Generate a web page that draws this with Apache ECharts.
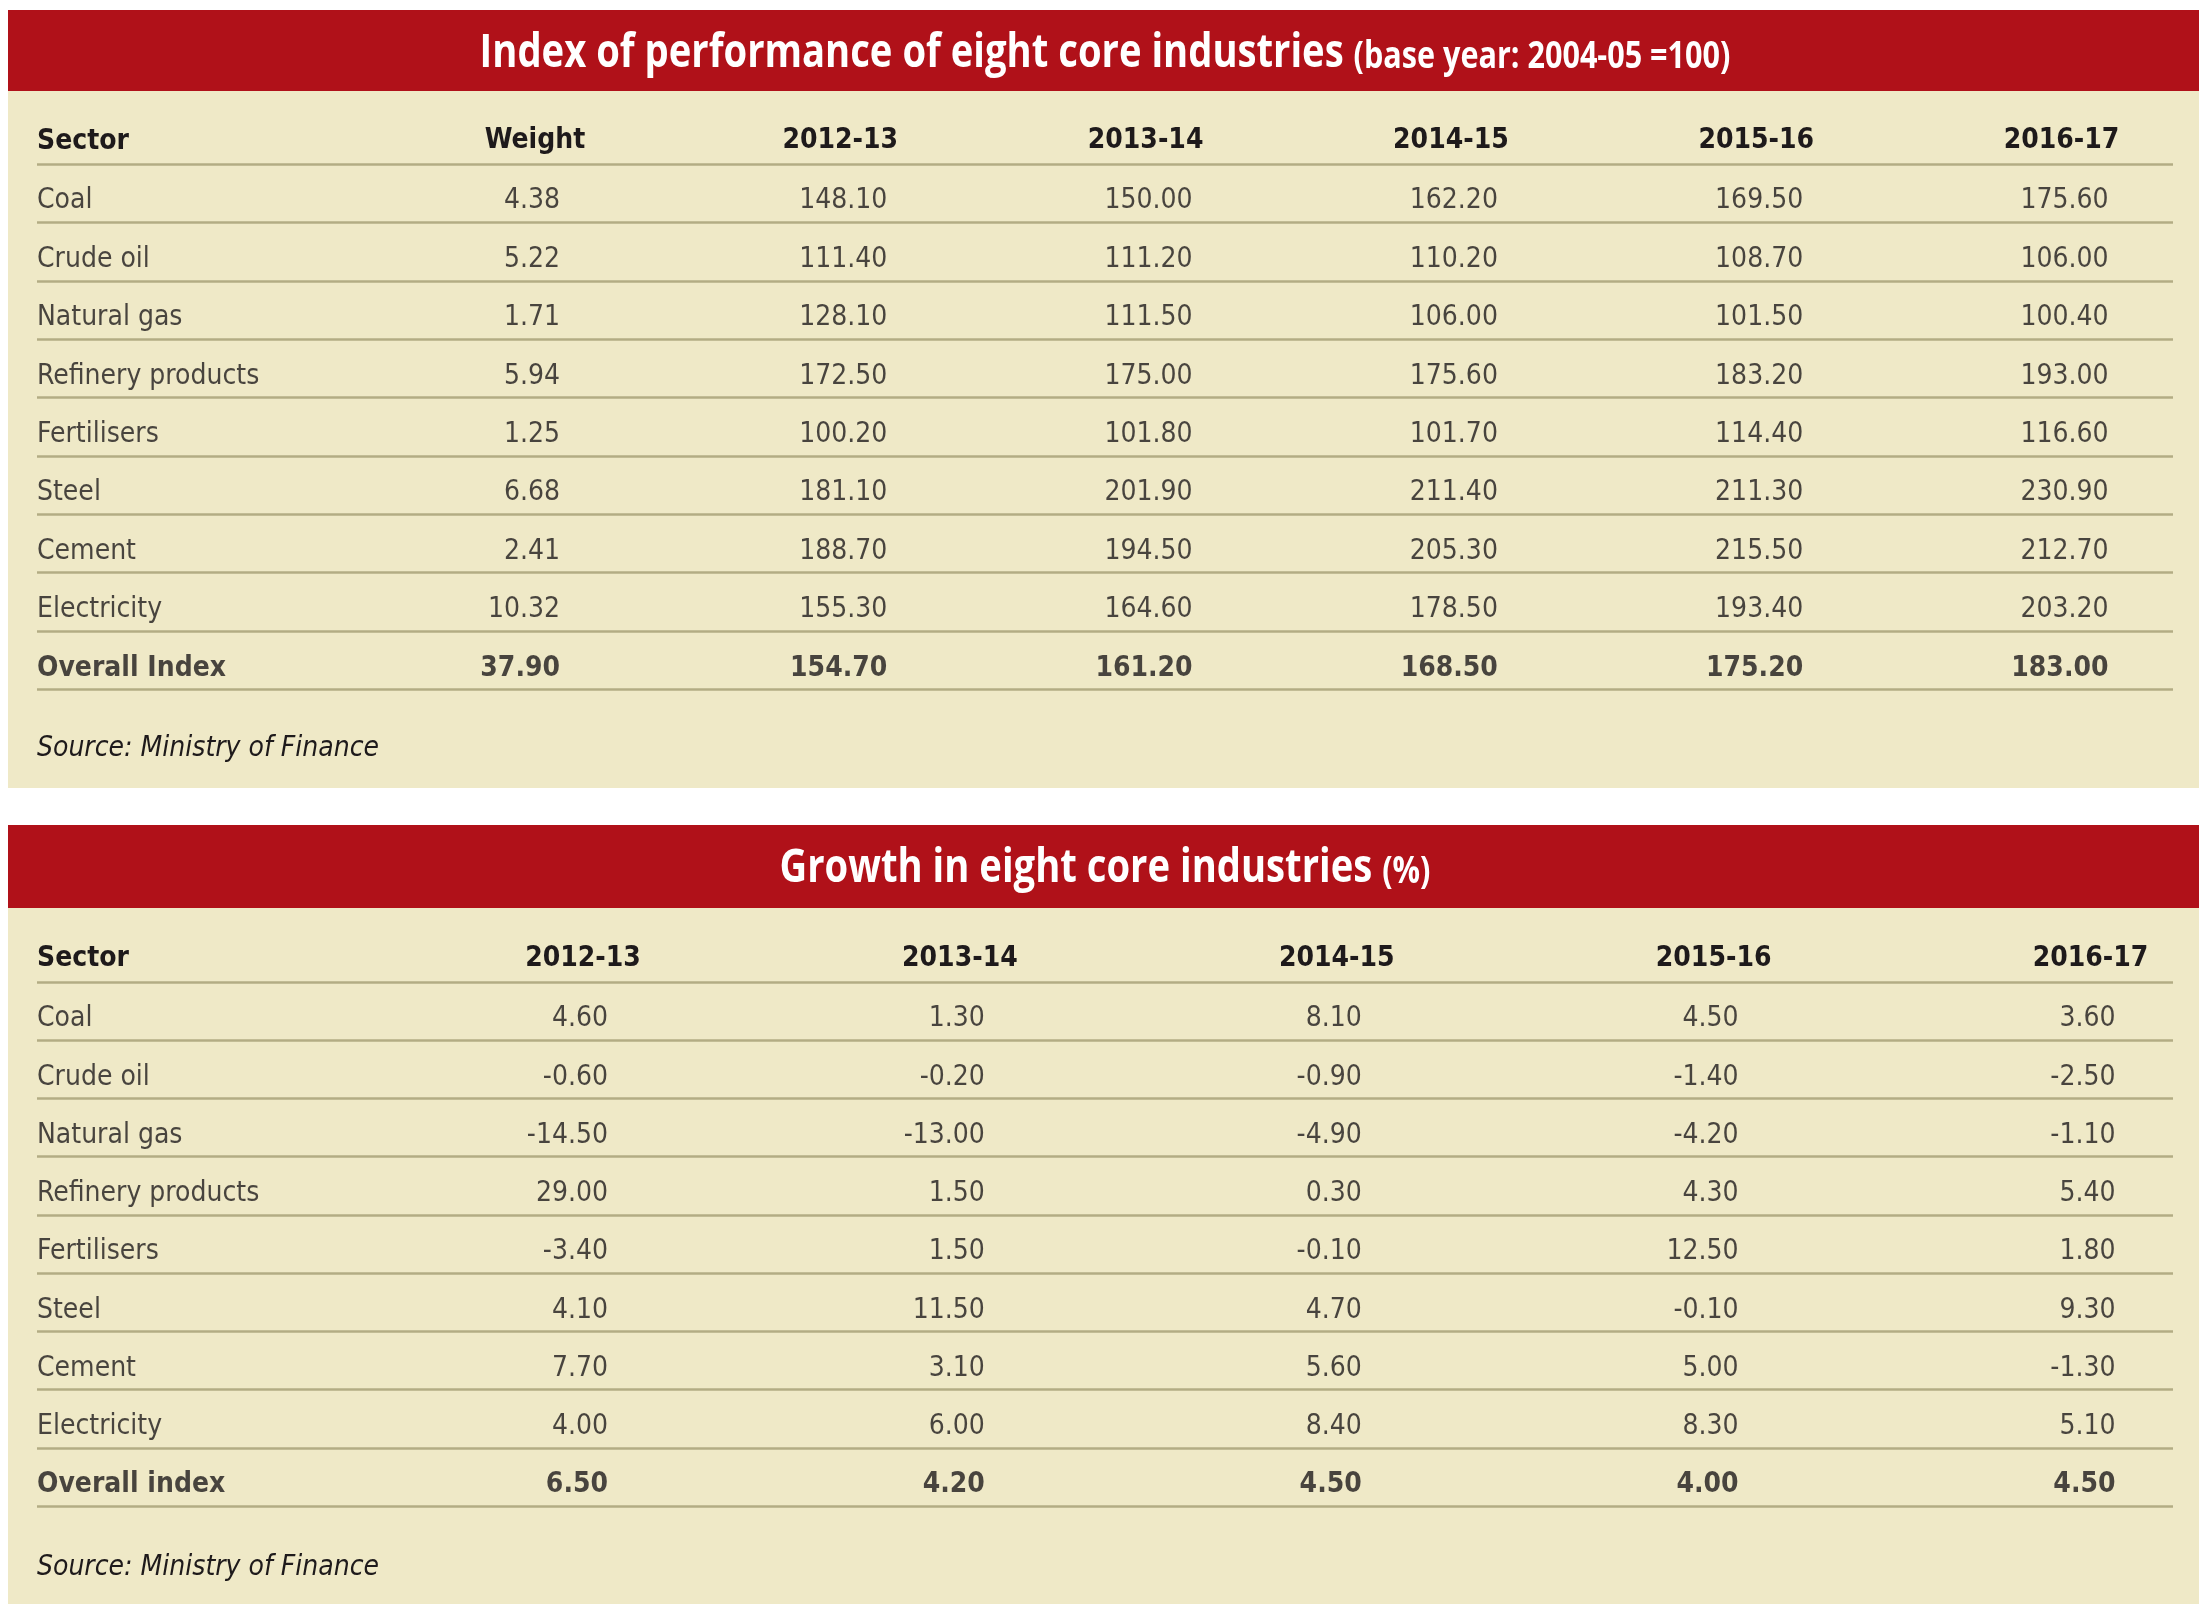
<!DOCTYPE html>
<html><head><meta charset="utf-8">
<script src="https://cdn.jsdelivr.net/npm/echarts@6/dist/echarts.min.js"></script>
<style>html,body{margin:0;padding:0;background:#fff}#c{width:2209px;height:1619px}</style>
</head><body><div id="c"></div>
<script>
// ---------- data: table 1 (index, base 2004-05 = 100) ----------
const sectors1 = ['Coal','Crude oil','Natural gas','Refinery products','Fertilisers','Steel','Cement','Electricity','Overall Index'];
const columns1 = ['Weight','2012-13','2013-14','2014-15','2015-16','2016-17'];
const weight    = [4.38, 5.22, 1.71, 5.94, 1.25, 6.68, 2.41, 10.32, 37.90];
const index1213 = [148.10, 111.40, 128.10, 172.50, 100.20, 181.10, 188.70, 155.30, 154.70];
const index1314 = [150.00, 111.20, 111.50, 175.00, 101.80, 201.90, 194.50, 164.60, 161.20];
const index1415 = [162.20, 110.20, 106.00, 175.60, 101.70, 211.40, 205.30, 178.50, 168.50];
const index1516 = [169.50, 108.70, 101.50, 183.20, 114.40, 211.30, 215.50, 193.40, 175.20];
const index1617 = [175.60, 106.00, 100.40, 193.00, 116.60, 230.90, 212.70, 203.20, 183.00];

// ---------- data: table 2 (growth, %) ----------
const sectors2 = ['Coal','Crude oil','Natural gas','Refinery products','Fertilisers','Steel','Cement','Electricity','Overall index'];
const columns2 = ['2012-13','2013-14','2014-15','2015-16','2016-17'];
const growth1213 = [4.60, -0.60, -14.50, 29.00, -3.40, 4.10, 7.70, 4.00, 6.50];
const growth1314 = [1.30, -0.20, -13.00, 1.50, 1.50, 11.50, 3.10, 6.00, 4.20];
const growth1415 = [8.10, -0.90, -4.90, 0.30, -0.10, 4.70, 5.60, 8.40, 4.50];
const growth1516 = [4.50, -1.40, -4.20, 4.30, 12.50, -0.10, 5.00, 8.30, 4.00];
const growth1617 = [3.60, -2.50, -1.10, 5.40, 1.80, 9.30, -1.30, 5.10, 4.50];

const title1 = 'Index of performance of eight core industries';
const sub1 = '(base year: 2004-05 =100)';
const title2 = 'Growth in eight core industries';
const sub2 = '(%)';
const sectorHead = 'Sector';
const sourceText = 'Source: Ministry of Finance';

// ---------- styles ----------
const RED = '#b01119', BEIGE = '#efe9c7', RULE = '#b3ac84', INK = '#1e1a1b';
const FONT = "'DejaVu Sans Condensed','Liberation Sans',sans-serif";
const TFONT = "'Open Sans','DejaVu Sans Condensed',sans-serif";
const BODY = 28;

// condensed title: measure and squeeze horizontally
function measure(font, text) {
  const c = document.createElement('canvas').getContext('2d');
  c.font = font; return c.measureText(text).width;
}
const TSIZE = 46;
const wMain = measure('bold ' + TSIZE + "px 'Open Sans'", title1 + ' ');
const TSCALE = 874 / wMain;
const wSub30 = measure("bold 30px 'Open Sans'", sub1);
const SSIZE = Math.round(30 * (377 / TSCALE) / wSub30 * 10) / 10;

function valueCells(cols, nRows, offFn) {
  const out = [];
  cols.forEach((arr, j) => arr.forEach((v, i) => {
    out.push({ value: [j, i, v], label: { offset: [offFn(j), 8], fontWeight: i === nRows - 1 ? 'bold' : 'normal' } });
  }));
  return out;
}
function nameCells(names) {
  return names.map((n, i) => ({ value: [0, i, n], label: { offset: [0, 8], fontWeight: i === names.length - 1 ? 'bold' : 'normal' } }));
}

function ruleYAxis(grid, cats) {
  return {
    type: 'category', gridIndex: grid, data: cats, inverse: true, boundaryGap: true,
    axisLine: { show: false }, axisTick: { show: false }, axisLabel: { show: false },
    splitLine: { show: true, interval: 0, lineStyle: { color: RULE, width: 2.5 } }
  };
}
function headXAxis(grid, cats) {
  return {
    type: 'category', gridIndex: grid, data: cats, position: 'top', boundaryGap: false,
    axisLine: { show: false }, axisTick: { show: false }, splitLine: { show: false },
    axisLabel: { interval: 0, margin: 9, fontFamily: FONT, fontSize: BODY, fontWeight: 'bold', color: INK }
  };
}
function textSeries(xi, yi, data, align, fmt) {
  return {
    type: 'scatter', xAxisIndex: xi, yAxisIndex: yi,
    symbol: 'circle', symbolSize: 1, itemStyle: { color: 'rgba(0,0,0,0)' },
    silent: true, animation: false, data: data,
    label: {
      show: true, position: 'inside', align: align, verticalAlign: 'middle',
      fontFamily: FONT, fontSize: BODY, color: INK, formatter: fmt
    }
  };
}

const data1 = valueCells([weight, index1213, index1314, index1415, index1516, index1617], sectors1.length, j => j === 0 ? 25 : 47);
const data2 = valueCells([growth1213, growth1314, growth1415, growth1516, growth1617], sectors2.length, () => 25);
const names1 = nameCells(sectors1);
const names2 = nameCells(sectors2);

const fmtNum = p => p.value[2].toFixed(2);
const fmtName = p => p.value[2];

const chart = echarts.init(document.getElementById('c'), null, { renderer: 'canvas' });

function titleText(y, main, sub) {
  return {
    type: 'text', z: 10, x: 1105, y: y, scaleX: TSCALE, scaleY: 1,
    style: {
      text: '{a|' + main + ' }{b|' + sub + '}', align: 'center', verticalAlign: 'middle',
      rich: {
        a: { fontFamily: TFONT, fontSize: TSIZE, fontWeight: 'bold', fill: '#fff' },
        b: { fontFamily: TFONT, fontSize: SSIZE, fontWeight: 'bold', fill: '#fff', padding: [8, 0, 0, 0] }
      }
    }
  };
}
function plainText(x, y, text, extra) {
  return { type: 'text', z: 10, x: x, y: y, style: Object.assign({
    text: text, fontFamily: FONT, fontSize: BODY, fill: INK, verticalAlign: 'middle', align: 'left' }, extra) };
}

const option = {
  backgroundColor: '#ffffff',
  animation: false,
  grid: [
    { left: 37, top: 164, width: 2136, height: 525.5, outerBoundsMode: 'none', containLabel: false },
    { left: 535, top: 164, width: 1526.5, height: 525.5, outerBoundsMode: 'none', containLabel: false },
    { left: 37, top: 982, width: 2136, height: 524, outerBoundsMode: 'none', containLabel: false },
    { left: 583, top: 982, width: 1507.5, height: 524, outerBoundsMode: 'none', containLabel: false }
  ],
  xAxis: [
    { type: 'value', gridIndex: 0, show: false, min: 0, max: 1 },
    headXAxis(1, columns1),
    { type: 'value', gridIndex: 2, show: false, min: 0, max: 1 },
    headXAxis(3, columns2)
  ],
  yAxis: [
    ruleYAxis(0, sectors1),
    { type: 'category', gridIndex: 1, data: sectors1, inverse: true, show: false },
    ruleYAxis(2, sectors2),
    { type: 'category', gridIndex: 3, data: sectors2, inverse: true, show: false }
  ],
  series: [
    textSeries(0, 0, names1, 'left', fmtName),
    textSeries(1, 1, data1, 'right', fmtNum),
    textSeries(2, 2, names2, 'left', fmtName),
    textSeries(3, 3, data2, 'right', fmtNum)
  ],
  graphic: [
    { type: 'rect', z: -10, shape: { x: 8, y: 10, width: 2191, height: 81 }, style: { fill: RED } },
    { type: 'rect', z: -10, shape: { x: 8, y: 91, width: 2191, height: 697 }, style: { fill: BEIGE } },
    { type: 'rect', z: -10, shape: { x: 8, y: 825, width: 2191, height: 83 }, style: { fill: RED } },
    { type: 'rect', z: -10, shape: { x: 8, y: 908, width: 2191, height: 696 }, style: { fill: BEIGE } },
    titleText(54, title1, sub1),
    titleText(869, title2, sub2),
    plainText(37, 142, sectorHead, { fontWeight: 'bold' }),
    plainText(37, 959, sectorHead, { fontWeight: 'bold' }),
    plainText(37, 749, sourceText, { fontStyle: 'italic' }),
    plainText(37, 1568, sourceText, { fontStyle: 'italic' })
  ]
};
chart.setOption(option);
</script></body></html>
